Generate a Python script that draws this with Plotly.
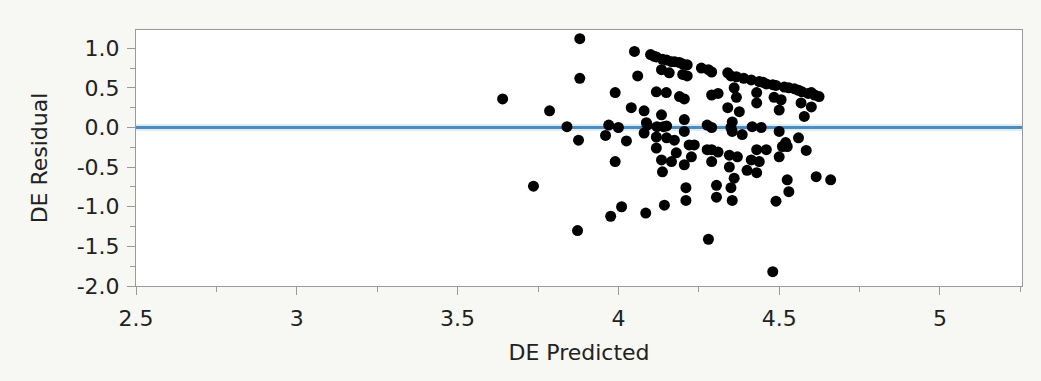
import plotly.graph_objects as go

# Data
pred = [
    3.64, 3.736, 3.786, 3.84, 3.876, 3.88, 3.88, 3.873, 3.96, 3.976, 3.97, 3.99, 3.99, 4.0, 4.01,
    4.025, 4.04, 4.05, 4.06, 4.085, 4.08,
    4.10, 4.11, 4.118, 4.137, 4.15, 4.165, 4.175, 4.19, 4.20, 4.214, 4.258, 4.28, 4.29, 4.34, 4.35,
    4.367, 4.39, 4.413, 4.438, 4.45, 4.46, 4.48, 4.49, 4.516, 4.53, 4.547, 4.56, 4.571, 4.59, 4.60,
    4.61, 4.624,
    4.134, 4.158, 4.20, 4.214, 4.118, 4.149, 4.19, 4.205, 4.29, 4.31, 4.36, 4.367, 4.43, 4.43,
    4.484, 4.506, 4.50, 4.568, 4.60, 4.578, 4.34, 4.376, 4.134, 4.205,
    4.087, 4.09, 4.12, 4.14, 4.15, 4.205, 4.276, 4.29, 4.354, 4.35, 4.354, 4.385, 4.416, 4.444,
    4.50, 4.56, 4.52, 4.08, 4.118, 4.15, 4.174,
    4.118, 4.18, 4.22, 4.236, 4.227, 4.276, 4.29, 4.31, 4.345, 4.37, 4.43, 4.46, 4.51, 4.525,
    4.50, 4.584, 4.413, 4.438, 4.29, 4.134, 4.165, 4.205, 4.345, 4.40, 4.43, 4.137, 4.36, 4.305,
    4.35, 4.305, 4.354, 4.21, 4.21, 4.143, 4.525, 4.53, 4.49, 4.615, 4.66, 4.28, 4.48,
]
resid = [
    0.36, -0.74, 0.21, 0.01, -0.16, 1.12, 0.62, -1.30, -0.10, -1.12, 0.03, 0.44, -0.43, 0.0, -1.0,
    -0.17, 0.25, 0.96, 0.65, -1.08, 0.21,
    0.92, 0.90, 0.89, 0.86, 0.85, 0.83, 0.83, 0.82, 0.80, 0.79, 0.75, 0.73, 0.70, 0.69, 0.65,
    0.64, 0.62, 0.60, 0.58, 0.57, 0.55, 0.54, 0.53, 0.51, 0.50, 0.49, 0.47, 0.45, 0.43, 0.44,
    0.41, 0.39,
    0.73, 0.69, 0.67, 0.65, 0.45, 0.44, 0.39, 0.36, 0.41, 0.43, 0.50, 0.38, 0.44, 0.31,
    0.38, 0.35, 0.22, 0.31, 0.26, 0.14, 0.25, 0.20, 0.16, 0.10,
    0.06, 0.03, 0.01, 0.01, 0.02, -0.05, 0.03, 0.0, 0.07, 0.0, -0.05, -0.09, 0.01, 0.0,
    -0.05, -0.13, -0.19, -0.07, -0.12, -0.13, -0.16,
    -0.26, -0.32, -0.22, -0.22, -0.37, -0.28, -0.28, -0.31, -0.35, -0.37, -0.28, -0.28, -0.24, -0.24,
    -0.37, -0.29, -0.41, -0.43, -0.43, -0.41, -0.43, -0.47, -0.50, -0.54, -0.57, -0.56, -0.64, -0.73,
    -0.76, -0.88, -0.92, -0.76, -0.92, -0.98, -0.66, -0.81, -0.93, -0.62, -0.66, -1.41, -1.82,
]

x_ticks = [2.5, 3, 3.5, 4, 4.5, 5]
x_tick_text = ["2.5", "3", "3.5", "4", "4.5", "5"]
x_minor = [2.75, 3.25, 3.75, 4.25, 4.75, 5.25]
y_ticks = [1.0, 0.5, 0.0, -0.5, -1.0, -1.5, -2.0]
y_tick_text = ["1.0", "0.5", "0.0", "-0.5", "-1.0", "-1.5", "-2.0"]
y_minor = [0.75, 0.25, -0.25, -0.75, -1.25, -1.75]

FONT = "DejaVu Sans, Verdana, sans-serif"
AX = "#9a9a9a"
TXT = "#222222"

fig = go.Figure()
fig.add_trace(go.Scatter(
    x=pred, y=resid, mode="markers",
    marker=dict(color="#000000", size=11, line=dict(width=0)),
    showlegend=False, hoverinfo="x+y",
))

# zero reference line (with soft halo)
fig.add_hline(y=0, line=dict(color="rgba(120,180,225,0.25)", width=7), layer="below")
fig.add_hline(y=0, line=dict(color="#4b8cc0", width=2.8), layer="below")

axis_common = dict(
    showgrid=False, zeroline=False, showline=True, linecolor=AX, linewidth=1,
    mirror=True, ticks="outside", tickcolor=AX, ticklen=8, tickwidth=1,
    tickfont=dict(family=FONT, size=22, color=TXT),
)

fig.update_xaxes(
    **axis_common,
    range=[2.5, 5.255], tickmode="array", tickvals=x_ticks, ticktext=x_tick_text,
    minor=dict(tickmode="array", tickvals=x_minor, ticks="outside", ticklen=5, tickcolor=AX),
    ticklabelstandoff=5,
    title=dict(text="DE Predicted", font=dict(family=FONT, size=22, color=TXT), standoff=14),
)
fig.update_yaxes(
    **axis_common,
    range=[-2.0, 1.23], tickmode="array", tickvals=y_ticks, ticktext=y_tick_text,
    minor=dict(tickmode="array", tickvals=y_minor, ticks="outside", ticklen=5, tickcolor=AX),
    ticklabelstandoff=3,
    title=dict(text="DE Residual", font=dict(family=FONT, size=22, color=TXT), standoff=22),
)

fig.update_layout(
    width=1041, height=381,
    margin=dict(l=136, r=19, t=30, b=95),
    paper_bgcolor="#f7f7f4", plot_bgcolor="#ffffff",
    showlegend=False,
)

fig.write_html("out.html")
